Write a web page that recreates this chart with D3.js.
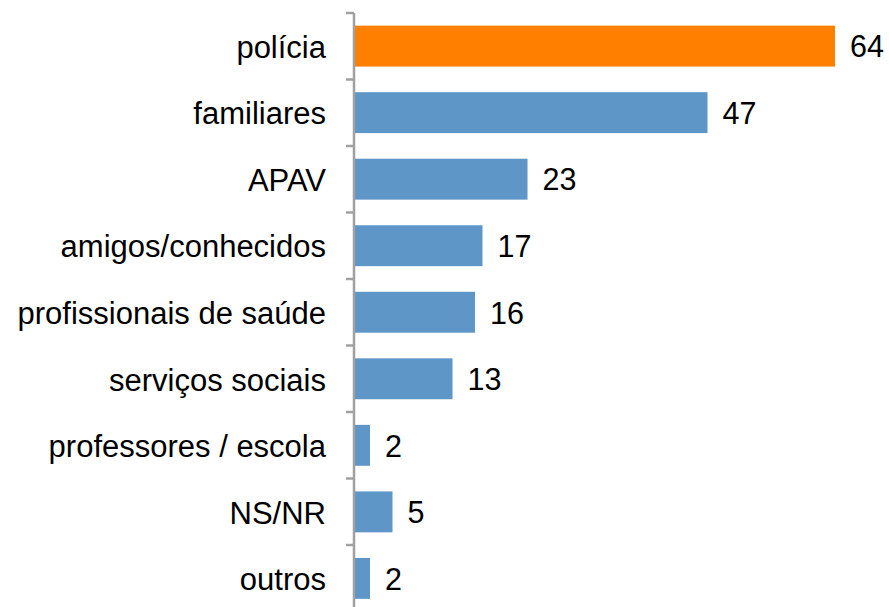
<!DOCTYPE html>
<html lang="pt">
<head>
  <meta charset="UTF-8">
  <title>Bar chart</title>
  <script src="https://d3js.org/d3.v7.min.js"></script>
</head>
<body style="margin: 0; overflow: hidden; background: #fff;">
<script>
  // data
  const categories = ['polícia', 'familiares', 'APAV', 'amigos/conhecidos', 'profissionais de saúde',
    'serviços sociais', 'professores / escola', 'NS/NR', 'outros'];
  const values = [64, 47, 23, 17, 16, 13, 2, 5, 2];
  const highlight = 'polícia';

  const width = 889, height = 607;
  const x0 = 355, yTop = 13, band = 66.5;

  const svg = d3.select('body').append('svg')
    .attr('width', width)
    .attr('height', height)
    .style('font-family', '"Liberation Sans", Arial, sans-serif');

  const x = d3.scaleLinear().domain([0, 64]).range([x0, 835]);
  const y = d3.scaleBand()
    .domain(categories)
    .range([yTop, yTop + band * categories.length])
    .paddingInner(0.385)
    .paddingOuter(0.19);

  //Bars
  svg.selectAll('rect.bar')
    .data(categories)
    .join('rect')
    .attr('class', 'bar')
    .attr('x', x(0))
    .attr('y', d => y(d))
    .attr('width', (d, i) => x(values[i]) - x(0))
    .attr('height', y.bandwidth())
    .attr('fill', d => d === highlight ? '#ff7f00' : '#5f96c8');

  //Value labels
  svg.selectAll('text.val')
    .data(categories)
    .join('text')
    .attr('class', 'val')
    .attr('x', (d, i) => x(values[i]) + 15)
    .attr('y', d => y(d) + y.bandwidth() / 2)
    .attr('dy', '0.37em')
    .attr('font-size', 30.5)
    .attr('fill', '#000')
    .text((d, i) => values[i]);

  //Category axis line + ticks between categories
  const g = svg.append('g');
  g.append('line')
    .attr('x1', x0 - 1).attr('x2', x0 - 1)
    .attr('y1', yTop).attr('y2', height)
    .attr('stroke', '#a0a0a0').attr('stroke-width', 2.5);

  const tickYs = d3.range(categories.length).map(i => yTop + i * band);
  g.selectAll('line.tick')
    .data(tickYs)
    .join('line')
    .attr('class', 'tick')
    .attr('x1', x0 - 9).attr('x2', x0 - 1)
    .attr('y1', d => d).attr('y2', d => d)
    .attr('stroke', '#a0a0a0').attr('stroke-width', 2.5);

  //Category labels
  svg.selectAll('text.cat')
    .data(categories)
    .join('text')
    .attr('class', 'cat')
    .attr('x', 326)
    .attr('y', d => y(d) + y.bandwidth() / 2)
    .attr('dy', '0.38em')
    .attr('text-anchor', 'end')
    .attr('font-size', 31)
    .attr('fill', '#000')
    .text(d => d);
</script>
</body>
</html>
